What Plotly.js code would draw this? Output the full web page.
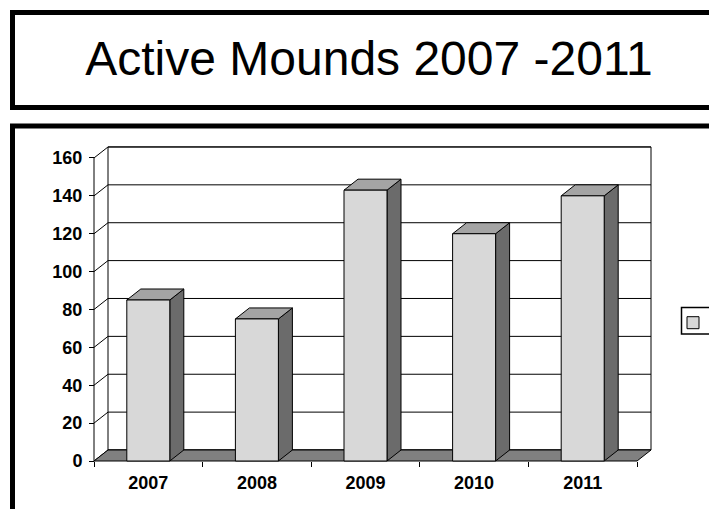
<!DOCTYPE html>
<html>
<head>
<meta charset="utf-8">
<script src="https://cdn.plot.ly/plotly-3.0.1.min.js"></script>
<style>
  html, body { margin: 0; padding: 0; background: #ffffff; }
  #chart { width: 709px; height: 509px; }
</style>
</head>
<body>
<div id="chart"></div>
<script>
// ---- data ----
const years = ['2007', '2008', '2009', '2010', '2011'];
const mounds = [85, 75, 143, 120, 140];
const yTicks = [0, 20, 40, 60, 80, 100, 120, 140, 160];
const seriesName = 'Active Mounds';
const chartTitle = 'Active Mounds 2007 -2011';

// ---- geometry of the pseudo 3-D frame (pixels) ----
const W = 709, H = 509;
const ORIGIN_X = 94, ORIGIN_Y = 461;          // front-left corner of the floor
const PLOT_L = 90, PLOT_R = 655, PLOT_T = 143, PLOT_B = 465;
const X_UNIT = 108.6, Y_UNIT = 1.894;         // px per category / per value unit
const DEPTH_X = 14, DEPTH_Y = 11;             // offset of the back plane
const DX = DEPTH_X / X_UNIT, DY = DEPTH_Y / Y_UNIT;
const BAR_W = 0.396;
const nCat = years.length;
const yMax = yTicks[yTicks.length - 1];

const xRange = [(PLOT_L - ORIGIN_X) / X_UNIT, (PLOT_R - ORIGIN_X) / X_UNIT];
const yRange = [(ORIGIN_Y - PLOT_B) / Y_UNIT, (ORIGIN_Y - PLOT_T) / Y_UNIT];
const px = x => (x - PLOT_L) / (PLOT_R - PLOT_L);
const py = y => (PLOT_B - y) / (PLOT_B - PLOT_T);

const FONT = 'Liberation Sans, Arial, sans-serif';
const FRONT = '#d8d8d8', SIDE = '#6b6b6b', TOP = '#a4a4a4', FLOOR = '#808080';

const centers = years.map((_, i) => i + 0.5);
const edges = Array.from({ length: nCat + 1 }, (_, i) => i);

// side and top faces of every bar
const sideX = [], sideY = [], topX = [], topY = [];
mounds.forEach((v, i) => {
  const xl = centers[i] - BAR_W / 2, xr = centers[i] + BAR_W / 2;
  sideX.push(xr, xr + DX, xr + DX, xr, xr, null);
  sideY.push(0, DY, v + DY, v, 0, null);
  topX.push(xl, xr, xr + DX, xl + DX, xl, null);
  topY.push(v, v, v + DY, v + DY, v, null);
});

const traces = [
  {
    type: 'scatter', mode: 'lines', x: sideX, y: sideY, fill: 'toself',
    fillcolor: SIDE, line: { color: '#000', width: 1 },
    showlegend: false, hoverinfo: 'skip', xaxis: 'x', yaxis: 'y'
  },
  {
    type: 'scatter', mode: 'lines', x: topX, y: topY, fill: 'toself',
    fillcolor: TOP, line: { color: '#000', width: 1 },
    showlegend: false, hoverinfo: 'skip', xaxis: 'x', yaxis: 'y'
  },
  {
    type: 'bar', name: seriesName, x: centers, y: mounds, width: BAR_W,
    marker: { color: FRONT, line: { color: '#000', width: 1 } },
    hoverinfo: 'y', xaxis: 'x2', yaxis: 'y'
  }
];

// walls, gridlines and floor
const shapes = [];
shapes.push({
  type: 'rect', xref: 'x', yref: 'y', layer: 'below',
  x0: DX, x1: nCat + DX, y0: DY, y1: yMax + DY,
  fillcolor: '#ffffff', line: { color: '#000', width: 1 }
});
yTicks.forEach(t => {
  shapes.push({
    type: 'path', xref: 'x', yref: 'y', layer: 'below',
    path: `M0,${t} L${DX},${t + DY} L${nCat + DX},${t + DY}`,
    line: { color: '#000', width: 1 }
  });
});
shapes.push({
  type: 'path', xref: 'x', yref: 'y', layer: 'below',
  path: `M0,0 L${nCat},0 L${nCat + DX},${DY} L${DX},${DY} Z`,
  fillcolor: FLOOR, line: { color: '#000', width: 1 }
});
shapes.push({
  type: 'line', xref: 'x', yref: 'y', layer: 'below',
  x0: 0, x1: 0, y0: 0, y1: yMax, line: { color: '#000', width: 1 }
});
// title frame, chart frame and legend frame
shapes.push({
  type: 'rect', xref: 'paper', yref: 'paper', layer: 'above',
  x0: px(12.5), x1: px(760), y0: py(107.5), y1: py(12.5),
  line: { color: '#000', width: 5 }, fillcolor: 'rgba(0,0,0,0)'
});
shapes.push({
  type: 'rect', xref: 'paper', yref: 'paper', layer: 'above',
  x0: px(12.5), x1: px(760), y0: py(560), y1: py(126),
  line: { color: '#000', width: 5 }, fillcolor: 'rgba(0,0,0,0)'
});
shapes.push({
  type: 'rect', xref: 'paper', yref: 'paper', layer: 'above',
  x0: px(681.5), x1: px(760), y0: py(334), y1: py(307.5),
  line: { color: '#000', width: 1.5 }, fillcolor: 'rgba(0,0,0,0)'
});

const tickFont = { family: FONT, size: 18, color: '#000', weight: 'bold' };

const layout = {
  width: W, height: H,
  margin: { l: PLOT_L, r: W - PLOT_R, t: PLOT_T, b: H - PLOT_B, autoexpand: false },
  paper_bgcolor: '#ffffff', plot_bgcolor: '#ffffff',
  font: { family: FONT, color: '#000' },
  title: {
    text: chartTitle, font: { family: FONT, size: 48, color: '#000' },
    xref: 'container', yref: 'container', x: 369 / W, xanchor: 'center',
    y: 1 - 58 / H, yanchor: 'middle'
  },
  showlegend: true,
  legend: {
    x: px(673), y: py(323), xanchor: 'left', yanchor: 'middle',
    bgcolor: 'rgba(0,0,0,0)', borderwidth: 0,
    font: tickFont
  },
  xaxis: {
    range: xRange, anchor: 'free', position: py(ORIGIN_Y),
    tickmode: 'array', tickvals: edges, showticklabels: false,
    ticks: 'outside', ticklen: 5, tickwidth: 1, tickcolor: '#000',
    showgrid: false, zeroline: false, showline: false, fixedrange: true
  },
  xaxis2: {
    overlaying: 'x', range: xRange, anchor: 'free', position: py(ORIGIN_Y),
    tickmode: 'array', tickvals: centers, ticktext: years,
    ticks: 'outside', ticklen: 5, tickcolor: 'rgba(0,0,0,0)',
    tickfont: tickFont,
    showgrid: false, zeroline: false, showline: false, fixedrange: true
  },
  yaxis: {
    range: yRange, anchor: 'free', position: px(ORIGIN_X),
    tickmode: 'array', tickvals: yTicks,
    ticks: 'outside', ticklen: 5, tickwidth: 1, tickcolor: '#000',
    ticklabelstandoff: 3,
    tickfont: tickFont,
    showgrid: false, zeroline: false, showline: false, fixedrange: true
  },
  shapes: shapes
};

Plotly.newPlot('chart', traces, layout, { displayModeBar: false, staticPlot: true });
</script>
</body>
</html>
